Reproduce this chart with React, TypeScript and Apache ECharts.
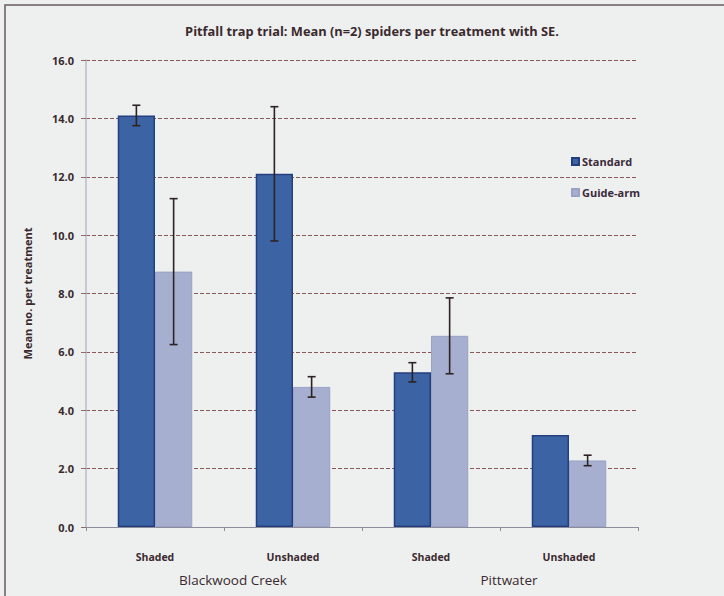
import React, { useEffect, useRef } from "react";
import * as echarts from "echarts";

const categories = ["Shaded", "Unshaded", "Shaded", "Unshaded"];
const sites = ["Blackwood Creek", "Pittwater"];
const seriesNames = ["Standard", "Guide-arm"];
const standardMeans = [14.1, 12.1, 5.3, 3.15];
const standardSE = [0.35, 2.3, 0.33, 0];
const guideMeans = [8.75, 4.8, 6.55, 2.28];
const guideSE = [2.5, 0.35, 1.3, 0.18];
const yTicks = { min: 0, max: 16, interval: 2 };

const BAR_GAP_FRAC = 0.46;

function errorSeries(means: number[], se: number[], side: number) {
  return {
    type: "custom",
    name: "err" + side,
    silent: true,
    z: 10,
    data: means.map((m, i) => [i, m - se[i], m + se[i]]),
    renderItem: (params: any, api: any) => {
      const idx = api.value(0);
      const lo = api.value(1);
      const hi = api.value(2);
      if (hi - lo <= 0) return null;
      const catW = api.size([1, 0])[0];
      const barW = (catW * (1 - BAR_GAP_FRAC)) / 2;
      const pLo = api.coord([idx, lo]);
      const pHi = api.coord([idx, hi]);
      const x = pLo[0] + side * barW / 2;
      const cap = 4;
      const style = { stroke: "#2e2222", lineWidth: 1.6 };
      return {
        type: "group",
        children: [
          { type: "line", shape: { x1: x, y1: pLo[1], x2: x, y2: pHi[1] }, style },
          { type: "line", shape: { x1: x - cap, y1: pLo[1], x2: x + cap, y2: pLo[1] }, style },
          { type: "line", shape: { x1: x - cap, y1: pHi[1], x2: x + cap, y2: pHi[1] }, style },
        ],
      };
    },
  };
}

export default function App() {
  const ref = useRef<HTMLDivElement>(null);
  useEffect(() => {
    document.body.style.margin = "0";
    if (!ref.current) return;
    const chart = echarts.init(ref.current, null, { renderer: "svg" });
    const font = "'Open Sans', 'Noto Sans', sans-serif";
    chart.setOption({
      animation: false,
      backgroundColor: "#eef0f0",
      textStyle: { fontFamily: font },
      title: {
        text: "Pitfall trap trial: Mean (n=2) spiders per treatment with SE.",
        left: 367,
        top: 19,
        textAlign: "center",
        textStyle: { fontSize: 12.8, fontWeight: "bold", color: "#3a2a2e", fontFamily: font },
      },
      legend: {
        data: seriesNames,
        orient: "vertical",
        left: 566,
        top: 151,
        itemGap: 20,
        itemWidth: 7,
        itemHeight: 7,
        icon: "rect",
        textStyle: { fontSize: 11, fontWeight: "bold", color: "#3a2a3a", fontFamily: font, padding: [0, 0, 0, -2] },
      },
      grid: { left: 86, right: 86, top: 60, bottom: 69 },
      xAxis: [
        {
          type: "category",
          data: categories,
          axisLine: { lineStyle: { color: "#8c8c9c", width: 1 } },
          axisTick: { show: true, length: 4, lineStyle: { color: "#8c8c9c" } },
          axisLabel: { margin: 24, fontSize: 10.5, fontWeight: "bold", color: "#3a2a2e" },
        },
        {
          type: "category",
          data: sites,
          position: "bottom",
          offset: 46,
          axisLine: { show: false },
          axisTick: { show: false },
          axisLabel: { margin: 0, fontSize: 13.5, color: "#3a2a2e", padding: [0, 0, 0, 18] },
        },
      ],
      yAxis: {
        type: "value",
        min: yTicks.min,
        max: yTicks.max,
        interval: yTicks.interval,
        name: "Mean no. per treatment",
        nameLocation: "middle",
        nameGap: 53,
        nameTextStyle: { fontSize: 11, fontWeight: "bold", color: "#3a2a2e" },
        axisLine: { show: true, lineStyle: { color: "#b8bcc8", width: 1.5 } },
        axisTick: { show: true, length: 5, inside: false, lineStyle: { color: "#8c6a6a" } },
        axisLabel: {
          margin: 12,
          fontSize: 11,
          fontWeight: "bold",
          color: "#3a2a2e",
          formatter: (v: number) => v.toFixed(1),
        },
        splitLine: { lineStyle: { color: "#8a5656", type: [4, 2], width: 1 } },
      },
      graphic: [
        {
          type: "rect",
          shape: { x: 5, y: 5, width: 740, height: 620 },
          style: { fill: "none", stroke: "#6a5a5e", lineWidth: 1.5 },
          silent: true,
        },
      ],
      series: [
        {
          name: seriesNames[0],
          type: "bar",
          data: standardMeans,
          barGap: "0%",
          barCategoryGap: BAR_GAP_FRAC * 100 + "%",
          itemStyle: { color: "#3c64a4", borderColor: "#243f80", borderWidth: 1.5 },
        },
        {
          name: seriesNames[1],
          type: "bar",
          data: guideMeans,
          barGap: "0%",
          barCategoryGap: BAR_GAP_FRAC * 100 + "%",
          itemStyle: { color: "#a7afd0", borderColor: "#9aa2c4", borderWidth: 1 },
        },
        errorSeries(standardMeans, standardSE, -1),
        errorSeries(guideMeans, guideSE, 1),
      ],
    });
    return () => chart.dispose();
  }, []);
  return <div ref={ref} style={{ width: 724, height: 596 }} />;
}
